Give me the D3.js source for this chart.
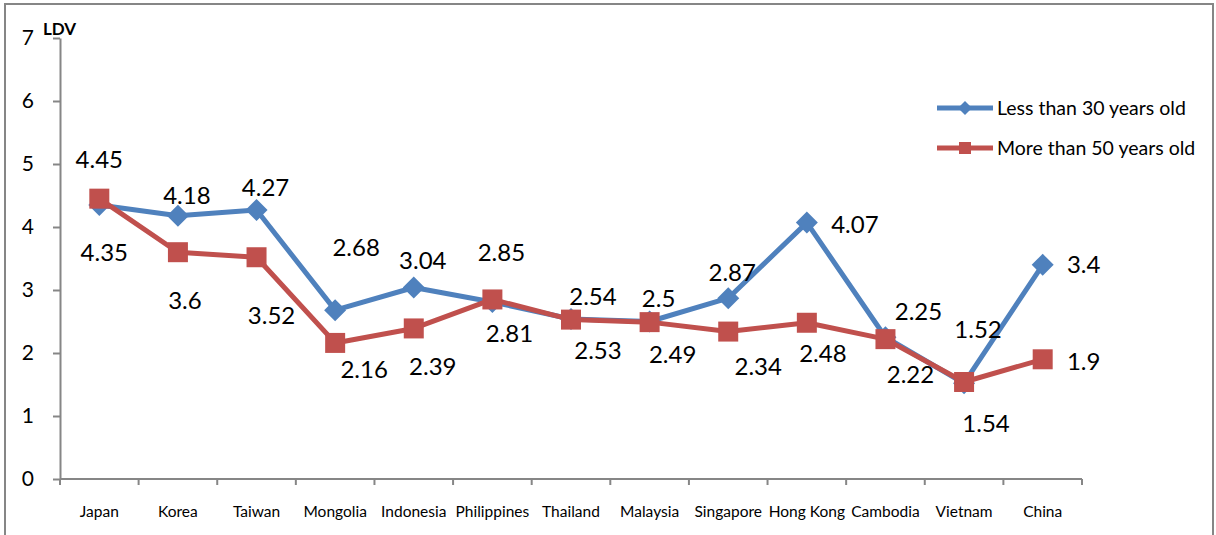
<!DOCTYPE html>
<html>
<head>
<meta charset="utf-8">
<script src="https://cdn.jsdelivr.net/npm/d3@7"></script>
<style>
  body { margin: 0; background: #fff; }
  svg { display: block; font-family: Lato, "Open Sans", sans-serif; }
</style>
</head>
<body>
<svg width="1216" height="535"></svg>
<script>
// chart data
var countries = ["Japan", "Korea", "Taiwan", "Mongolia", "Indonesia", "Philippines",
    "Thailand", "Malaysia", "Singapore", "Hong Kong", "Cambodia", "Vietnam", "China"];
var lessThan30 = [4.35, 4.18, 4.27, 2.68, 3.04, 2.81, 2.54, 2.5, 2.87, 4.07, 2.25, 1.52, 3.4];
var moreThan50 = [4.45, 3.6, 3.52, 2.16, 2.39, 2.85, 2.53, 2.49, 2.34, 2.48, 2.22, 1.54, 1.9];
var yTicks = [0, 1, 2, 3, 4, 5, 6, 7];
var seriesNames = ["Less than 30 years old", "More than 50 years old"];

// where each value label sits relative to its point (the labels were hand placed)
var nudgeLess = [[5, 47], [9, -20], [9, -23], [21, -63], [9, -27], [17, 31], [22, -23],
    [9, -23], [4, -26], [48, 2], [33, -26], [14, -54], [41, 0]];
var nudgeMore = [[0, -39], [7, 48], [15, 58], [29, 26], [19, 38], [9, -47], [27, 31],
    [23, 32], [30, 35], [16, 31], [25, 35], [22, 41], [41, 2]];

var blue = "#4f81bd", red = "#c0504d", axisGrey = "#868686";

var svg = d3.select("svg");

// outer chart frame
svg.append("rect")
    .attr("x", 5).attr("y", 4)
    .attr("width", 1208).attr("height", 560)
    .attr("fill", "none")
    .attr("stroke", axisGrey)
    .attr("stroke-width", 2);

var plot = {left: 60, right: 1082, top: 38, bottom: 479};

var x = d3.scaleBand()
    .domain(countries)
    .range([plot.left, plot.right]);

var y = d3.scaleLinear()
    .domain([0, 7])
    .range([plot.bottom, plot.top]);

function cx(i) { return x(countries[i]) + x.bandwidth() / 2; }

// y axis
var yAxis = svg.append("g")
    .attr("transform", "translate(" + plot.left + ",0)")
    .call(d3.axisLeft(y).tickValues(yTicks).tickFormat(d3.format("d")).tickSizeInner(7).tickSizeOuter(0).tickPadding(19));
yAxis.select(".domain").attr("stroke", axisGrey).attr("stroke-width", 2);
yAxis.selectAll(".tick line").attr("stroke", axisGrey).attr("stroke-width", 2);
yAxis.selectAll(".tick text")
    .attr("fill", "#000")
    .style("font-size", "21px")
    .style("font-family", "Lato, sans-serif");

// x axis, ticks between the categories
var xAxis = svg.append("g")
    .attr("transform", "translate(0," + plot.bottom + ")");
xAxis.append("line")
    .attr("x1", plot.left).attr("x2", plot.right)
    .attr("stroke", axisGrey).attr("stroke-width", 2);
xAxis.selectAll(".xtick")
    .data(countries.concat(["end"]))
    .enter().append("line")
    .attr("class", "xtick")
    .attr("x1", function(d, i) { return plot.left + i * x.step(); })
    .attr("x2", function(d, i) { return plot.left + i * x.step(); })
    .attr("y1", 0).attr("y2", 6)
    .attr("stroke", axisGrey).attr("stroke-width", 2);
xAxis.selectAll(".xlabel")
    .data(countries)
    .enter().append("text")
    .attr("class", "xlabel")
    .attr("x", function(d, i) { return cx(i); })
    .attr("y", 38)
    .attr("text-anchor", "middle")
    .style("font-size", "15.5px")
    .text(function(d) { return d; });

// axis title
svg.append("text")
    .attr("x", 43).attr("y", 35)
    .style("font-size", "17px")
    .style("font-weight", "bold")
    .text("LDV");

var line = d3.line()
    .x(function(d, i) { return cx(i); })
    .y(function(d) { return y(d); });

function drawSeries(values, color, shape) {
    var g = svg.append("g");
    g.append("path")
        .datum(values)
        .attr("d", line)
        .attr("fill", "none")
        .attr("stroke", color)
        .attr("stroke-width", 5)
        .attr("stroke-linejoin", "round");
    g.selectAll("path.marker")
        .data(values)
        .enter().append("path")
        .attr("class", "marker")
        .attr("transform", function(d, i) { return "translate(" + cx(i) + "," + y(d) + ")"; })
        .attr("d", shape)
        .attr("fill", color);
}

var diamond = "M0,-11L11,0L0,11L-11,0Z";
var square = "M-10,-10H10V10H-10Z";

drawSeries(lessThan30, blue, diamond);
drawSeries(moreThan50, red, square);

// value labels
function drawLabels(values, nudge) {
    svg.append("g").selectAll("text")
        .data(values)
        .enter().append("text")
        .attr("x", function(d, i) { return cx(i) + nudge[i][0]; })
        .attr("y", function(d, i) { return y(d) + nudge[i][1]; })
        .attr("dy", "0.36em")
        .attr("text-anchor", "middle")
        .style("font-size", "24px")
        .text(function(d) { return d; });
}
drawLabels(lessThan30, nudgeLess);
drawLabels(moreThan50, nudgeMore);

// legend
var legend = svg.append("g")
    .selectAll("g")
    .data(seriesNames)
    .enter().append("g")
    .attr("transform", function(d, i) { return "translate(937," + (108 + i * 40) + ")"; });
legend.append("line")
    .attr("x1", 0).attr("x2", 56)
    .attr("stroke", function(d, i) { return i === 0 ? blue : red; })
    .attr("stroke-width", 5);
legend.append("path")
    .attr("transform", "translate(28,0)")
    .attr("d", function(d, i) { return i === 0 ? "M0,-7L7,0L0,7L-7,0Z" : "M-6,-6H6V6H-6Z"; })
    .attr("fill", function(d, i) { return i === 0 ? blue : red; });
legend.append("text")
    .attr("x", 60)
    .attr("dy", "0.36em")
    .style("font-size", "19.5px")
    .text(function(d) { return d; });
</script>
</body>
</html>
